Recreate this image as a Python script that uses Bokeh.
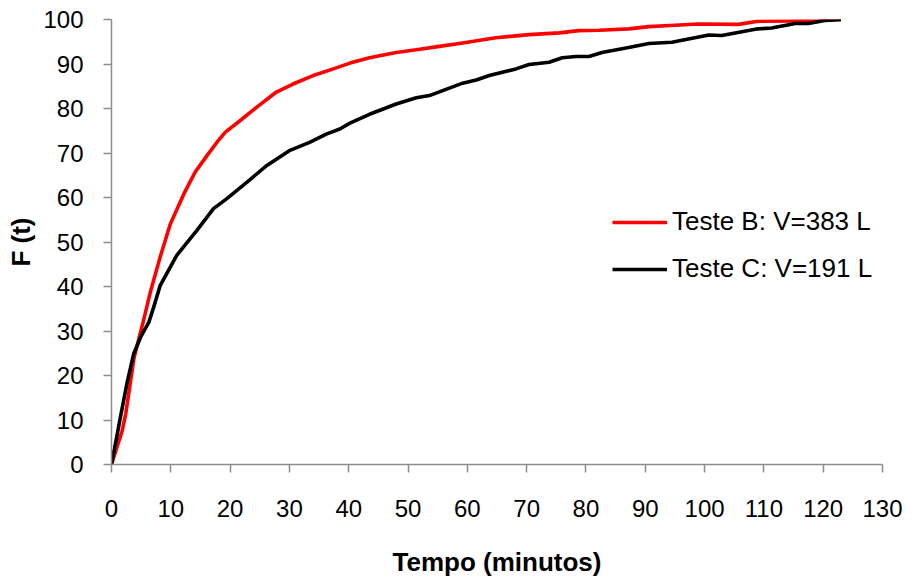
from bokeh.plotting import figure
from bokeh.models import Range1d, Legend, LegendItem, FixedTicker
from bokeh.embed import file_html
from bokeh.resources import INLINE

# Teste B: V=383 L
t_b = [0, 1.8, 2.4, 3.8, 5.4, 6.6, 8.2, 9.9, 12.2, 14.1, 16.1, 18, 19.2, 21.7, 24.5, 27.8,
       30.6, 34, 37.4, 40.2, 43.5, 48, 51.4, 55, 59.2, 64.8, 70.4, 75.5, 78.8, 82.2, 87.2,
       90.6, 95, 99, 105.7, 109, 115.8, 123]
f_b = [0, 7.6, 11.4, 24, 32.4, 39, 46.6, 54, 60.8, 65.7, 69.4, 72.8, 74.7, 77.3, 80.3, 83.7,
       85.5, 87.4, 88.9, 90.2, 91.4, 92.6, 93.2, 93.9, 94.7, 95.9, 96.6, 97, 97.5, 97.6, 97.9,
       98.4, 98.7, 99, 98.9, 99.6, 99.7, 100]

# Teste C: V=191 L
t_c = [0, 1.5, 2.6, 3.75, 4.9, 6.3, 7.1, 8.2, 11, 14.4, 17.2, 19.4, 22.8, 26.2, 30.1, 33.4,
       36.3, 38.5, 40.2, 43.5, 48, 51.4, 53.6, 59.2, 61.5, 63.7, 68.2, 70.4, 73.8, 76, 78.3,
       80.5, 82.7, 87.2, 90.6, 94.5, 100.7, 102.9, 109, 111.3, 115.3, 117.5, 120.3, 123]
f_c = [0, 10.6, 18.2, 24.9, 28.6, 32, 35.3, 40.2, 47, 52.6, 57.5, 59.7, 63.4, 67.2, 70.6, 72.4,
       74.3, 75.4, 76.7, 78.7, 81, 82.4, 82.9, 85.7, 86.4, 87.4, 88.9, 89.9, 90.4, 91.4, 91.7,
       91.7, 92.6, 93.7, 94.6, 94.9, 96.5, 96.4, 97.9, 98.1, 99.1, 99.1, 99.8, 100]

x_ticks = list(range(0, 131, 10))
y_ticks = list(range(0, 101, 10))
label_b = "Teste B: V=383 L"
label_c = "Teste C: V=191 L"

p = figure(width=920, height=583, output_backend="svg", toolbar_location=None,
           x_range=Range1d(0, 130), y_range=Range1d(0, 100),
           min_border_left=111, min_border_right=38, min_border_top=19, min_border_bottom=119)
p.outline_line_color = None
p.grid.visible = False
p.background_fill_color = "white"
p.border_fill_color = "white"

FONT = "Liberation Sans"
for ax in (p.xaxis[0], p.yaxis[0]):
    ax.axis_line_color = "#8c8c8c"
    ax.axis_line_width = 1.5
    ax.major_tick_line_color = "#8c8c8c"
    ax.major_tick_line_width = 1.5
    ax.major_tick_out = 8
    ax.major_tick_in = 0
    ax.minor_tick_out = 0
    ax.minor_tick_in = 0
    ax.major_label_text_font = FONT
    ax.major_label_text_font_size = "24px"
    ax.major_label_text_color = "black"
    ax.axis_label_text_font = FONT
    ax.axis_label_text_font_style = "bold"
    ax.axis_label_text_font_size = "26px"
    ax.axis_label_text_color = "black"

p.xaxis.ticker = FixedTicker(ticks=x_ticks)
p.yaxis.ticker = FixedTicker(ticks=y_ticks)
p.xaxis.axis_label = "Tempo (minutos)"
p.yaxis.axis_label = "F (t)"
p.xaxis.major_label_standoff = 27
p.yaxis.major_label_standoff = 20
p.xaxis.axis_label_standoff = 27
p.yaxis.axis_label_standoff = 4

r_b = p.line(t_b, f_b, line_color="#ff0000", line_width=3.6, line_join="round")
r_c = p.line(t_c, f_c, line_color="black", line_width=3.6, line_join="round")

legend = Legend(items=[LegendItem(label=label_b, renderers=[r_b]),
                       LegendItem(label=label_c, renderers=[r_c])],
                location=(501, 180), padding=0, margin=0, spacing=16,
                glyph_width=55, glyph_height=24, label_height=24, label_standoff=5,
                border_line_color=None, background_fill_alpha=0,
                label_text_font=FONT, label_text_font_size="26px", label_text_color="black")
p.add_layout(legend)

open("out.html", "w").write(file_html(p, INLINE))
